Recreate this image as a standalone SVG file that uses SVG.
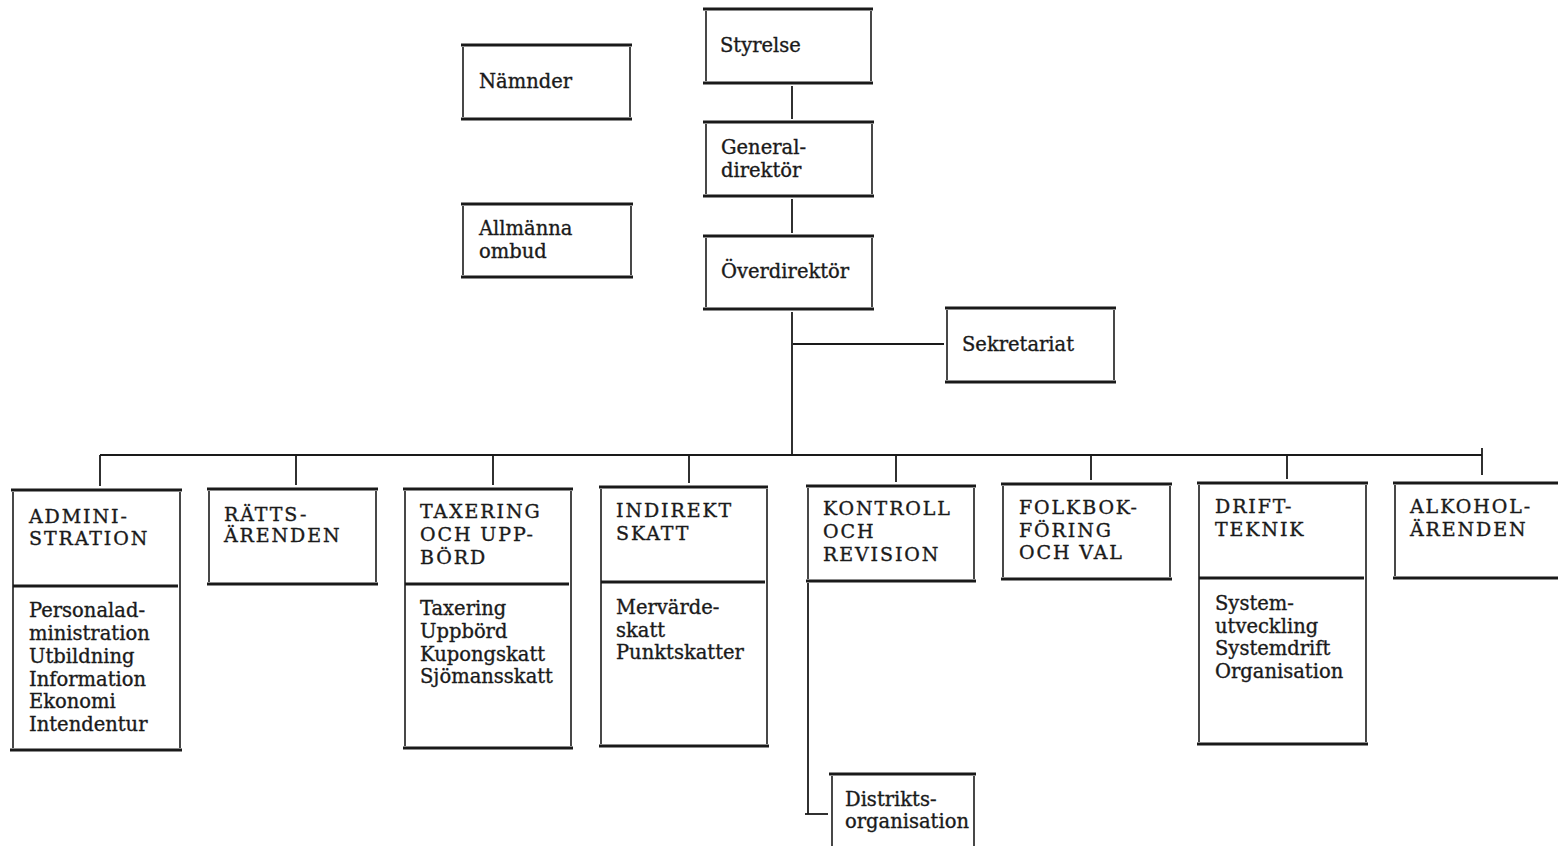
<svg xmlns="http://www.w3.org/2000/svg" width="1558" height="846" viewBox="0 0 1558 846">
<style>
.h{stroke:#1a1a1a;stroke-width:3;fill:none}
.v{stroke:#1a1a1a;stroke-width:1.6;fill:none}
.c line{stroke:#1a1a1a;stroke-width:1.8}
text{font-family:"DejaVu Serif","Liberation Serif",serif;fill:#1a1a1a;stroke:#1a1a1a;stroke-width:0.35}
.t{font-size:19.5px}
.u{font-size:19px;letter-spacing:1.9px}
.l{font-size:19.5px}
</style>
<rect width="1558" height="846" fill="#ffffff"/>
<g id="connectors" class="c">
<line x1="792" y1="86" x2="792" y2="119"/>
<line x1="792" y1="199" x2="792" y2="233"/>
<line x1="792" y1="312" x2="792" y2="455"/>
<line x1="793" y1="344" x2="944" y2="344"/>
<line x1="100" y1="455" x2="1482" y2="455"/>
<line x1="100" y1="455" x2="100" y2="486"/>
<line x1="296" y1="455" x2="296" y2="485"/>
<line x1="493" y1="455" x2="493" y2="485"/>
<line x1="689" y1="455" x2="689" y2="483"/>
<line x1="896" y1="455" x2="896" y2="482"/>
<line x1="1091" y1="455" x2="1091" y2="480"/>
<line x1="1287" y1="455" x2="1287" y2="479"/>
<line x1="1482" y1="448" x2="1482" y2="475"/>
<line x1="808" y1="583" x2="808" y2="814"/>
<line x1="805" y1="814" x2="828" y2="814"/>
</g>
<g id="styrelse">
<line class="h" x1="703" y1="9" x2="873" y2="9"/><line class="h" x1="703" y1="83" x2="873" y2="83"/>
<line class="v" x1="706" y1="11" x2="706" y2="81"/><line class="v" x1="871" y1="11" x2="871" y2="81"/>
<text class="t" x="720" y="52">Styrelse</text>
</g>
<g id="namnder">
<line class="h" x1="461" y1="45" x2="632" y2="45"/><line class="h" x1="461" y1="119" x2="632" y2="119"/>
<line class="v" x1="463" y1="47" x2="463" y2="117"/><line class="v" x1="630" y1="47" x2="630" y2="117"/>
<text class="t" x="479" y="88">Nämnder</text>
</g>
<g id="generaldirektor">
<line class="h" x1="703" y1="122" x2="874" y2="122"/><line class="h" x1="703" y1="196" x2="874" y2="196"/>
<line class="v" x1="706" y1="124" x2="706" y2="194"/><line class="v" x1="872" y1="124" x2="872" y2="194"/>
<text class="t" x="721" y="154">General-</text>
<text class="t" x="721" y="177">direktör</text>
</g>
<g id="allmanna-ombud">
<line class="h" x1="461" y1="204" x2="633" y2="204"/><line class="h" x1="461" y1="277" x2="633" y2="277"/>
<line class="v" x1="463" y1="206" x2="463" y2="275"/><line class="v" x1="631" y1="206" x2="631" y2="275"/>
<text class="t" x="479" y="235">Allmänna</text>
<text class="t" x="479" y="258">ombud</text>
</g>
<g id="overdirektor">
<line class="h" x1="703" y1="236" x2="874" y2="236"/><line class="h" x1="703" y1="309" x2="874" y2="309"/>
<line class="v" x1="706" y1="238" x2="706" y2="307"/><line class="v" x1="872" y1="238" x2="872" y2="307"/>
<text class="t" x="721" y="278">Överdirektör</text>
</g>
<g id="sekretariat">
<line class="h" x1="945" y1="308" x2="1116" y2="308"/><line class="h" x1="945" y1="382" x2="1116" y2="382"/>
<line class="v" x1="947" y1="310" x2="947" y2="380"/><line class="v" x1="1114" y1="310" x2="1114" y2="380"/>
<text class="t" x="962" y="351">Sekretariat</text>
</g>
<g id="administration">
<line class="h" x1="11" y1="490" x2="182" y2="490"/><line class="h" x1="13" y1="586" x2="178" y2="586"/><line class="h" x1="10" y1="750" x2="182" y2="750"/>
<line class="v" x1="13" y1="492" x2="13" y2="748"/><line class="v" x1="180" y1="492" x2="180" y2="748"/>
<text class="u" x="29" y="523">ADMINI-</text>
<text class="u" x="29" y="545">STRATION</text>
<text class="l" x="29" y="617">Personalad-</text>
<text class="l" x="29" y="640">ministration</text>
<text class="l" x="29" y="663">Utbildning</text>
<text class="l" x="29" y="686">Information</text>
<text class="l" x="29" y="708">Ekonomi</text>
<text class="l" x="29" y="731">Intendentur</text>
</g>
<g id="rattsarenden">
<line class="h" x1="207" y1="489" x2="378" y2="489"/><line class="h" x1="207" y1="584" x2="378" y2="584"/>
<line class="v" x1="209" y1="491" x2="209" y2="582"/><line class="v" x1="376" y1="491" x2="376" y2="582"/>
<text class="u" x="224" y="521">RÄTTS-</text>
<text class="u" x="224" y="542">ÄRENDEN</text>
</g>
<g id="taxering">
<line class="h" x1="403" y1="489" x2="573" y2="489"/><line class="h" x1="405" y1="584" x2="569" y2="584"/><line class="h" x1="403" y1="748" x2="573" y2="748"/>
<line class="v" x1="405" y1="491" x2="405" y2="746"/><line class="v" x1="571" y1="491" x2="571" y2="746"/>
<text class="u" x="420" y="518">TAXERING</text>
<text class="u" x="420" y="541">OCH UPP-</text>
<text class="u" x="420" y="564">BÖRD</text>
<text class="l" x="420" y="615">Taxering</text>
<text class="l" x="420" y="638">Uppbörd</text>
<text class="l" x="420" y="661">Kupongskatt</text>
<text class="l" x="420" y="683">Sjömansskatt</text>
</g>
<g id="indirekt-skatt">
<line class="h" x1="599" y1="487" x2="768" y2="487"/><line class="h" x1="601" y1="582" x2="765" y2="582"/><line class="h" x1="599" y1="746" x2="769" y2="746"/>
<line class="v" x1="601" y1="489" x2="601" y2="744"/><line class="v" x1="767" y1="489" x2="767" y2="744"/>
<text class="u" x="616" y="517">INDIREKT</text>
<text class="u" x="616" y="540">SKATT</text>
<text class="l" x="616" y="614">Mervärde-</text>
<text class="l" x="616" y="637">skatt</text>
<text class="l" x="616" y="659">Punktskatter</text>
</g>
<g id="kontroll">
<line class="h" x1="806" y1="486" x2="976" y2="486"/><line class="h" x1="806" y1="581" x2="976" y2="581"/>
<line class="v" x1="808" y1="488" x2="808" y2="579"/><line class="v" x1="974" y1="488" x2="974" y2="579"/>
<text class="u" x="823" y="515">KONTROLL</text>
<text class="u" x="823" y="538">OCH</text>
<text class="u" x="823" y="561">REVISION</text>
</g>
<g id="distriktsorganisation">
<line class="h" x1="829" y1="774" x2="976" y2="774"/>
<line class="v" x1="832" y1="776" x2="832" y2="846"/><line class="v" x1="974" y1="776" x2="974" y2="846"/>
<text class="l" x="845" y="806">Distrikts-</text>
<text class="l" x="845" y="828">organisation</text>
</g>
<g id="folkbokforing">
<line class="h" x1="1001" y1="484" x2="1172" y2="484"/><line class="h" x1="1001" y1="579" x2="1172" y2="579"/>
<line class="v" x1="1003" y1="486" x2="1003" y2="577"/><line class="v" x1="1170" y1="486" x2="1170" y2="577"/>
<text class="u" x="1019" y="514">FOLKBOK-</text>
<text class="u" x="1019" y="537">FÖRING</text>
<text class="u" x="1019" y="559">OCH VAL</text>
</g>
<g id="driftteknik">
<line class="h" x1="1197" y1="483" x2="1368" y2="483"/><line class="h" x1="1199" y1="578" x2="1364" y2="578"/><line class="h" x1="1197" y1="744" x2="1368" y2="744"/>
<line class="v" x1="1199" y1="485" x2="1199" y2="742"/><line class="v" x1="1366" y1="485" x2="1366" y2="742"/>
<text class="u" x="1215" y="513">DRIFT-</text>
<text class="u" x="1215" y="536">TEKNIK</text>
<text class="l" x="1215" y="610">System-</text>
<text class="l" x="1215" y="633">utveckling</text>
<text class="l" x="1215" y="655">Systemdrift</text>
<text class="l" x="1215" y="678">Organisation</text>
</g>
<g id="alkoholarenden">
<line class="h" x1="1393" y1="483" x2="1558" y2="483"/><line class="h" x1="1393" y1="578" x2="1558" y2="578"/>
<line class="v" x1="1395" y1="485" x2="1395" y2="576"/>
<text class="u" x="1410" y="513">ALKOHOL-</text>
<text class="u" x="1410" y="536">ÄRENDEN</text>
</g>
</svg>
